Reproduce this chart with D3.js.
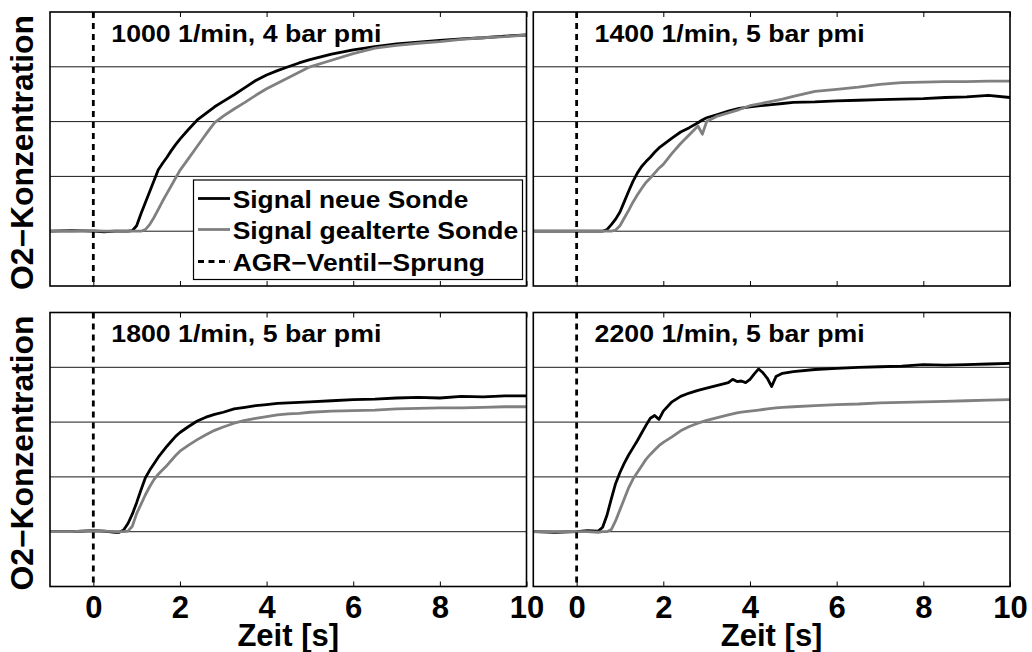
<!DOCTYPE html>
<html>
<head>
<meta charset="utf-8">
<script src="https://cdn.jsdelivr.net/npm/d3@7"></script>
<style>
  body { margin: 0; background: #fff; }
  svg { display: block; }
  text { font-family: "Liberation Sans", Arial, Helvetica, sans-serif; font-weight: bold; fill: #000; }
</style>
</head>
<body>
<svg id="chart" width="1032" height="652"></svg>
<script>
// ---- data -------------------------------------------------------------
const xTicks = [0, 2, 4, 6, 8, 10];
const yGrid = [1, 2, 3, 4];
const stepTime = 0;                     // AGR valve step
const xLabel = "Zeit [s]";
const yLabel = "O2\u2212Konzentration";
const legendLabels = ["Signal neue Sonde", "Signal gealterte Sonde", "AGR\u2212Ventil\u2212Sprung"];
const panelTitles = ["1000 1/min, 4 bar pmi", "1400 1/min, 5 bar pmi", "1800 1/min, 5 bar pmi", "2200 1/min, 5 bar pmi"];

const time1000 = [-1,-0.5,0,0.25,0.5,0.6,0.7,0.8,0.9,1.0,1.1,1.2,1.3,1.4,1.5,1.6,1.7,1.8,1.9,2.0,2.2,2.4,2.6,2.8,3.0,3.25,3.5,3.75,4.0,4.25,4.5,4.75,5.0,5.5,6.0,6.5,7.0,7.5,8.0,8.5,9.0,9.5,10];
const new1000  = [1.0,1.01,1.0,0.99,1.0,1.0,1.0,1.0,1.01,1.1,1.32,1.52,1.72,1.92,2.12,2.24,2.35,2.47,2.58,2.68,2.86,3.03,3.15,3.27,3.37,3.49,3.62,3.75,3.85,3.93,4.0,4.07,4.13,4.23,4.31,4.37,4.42,4.45,4.48,4.51,4.53,4.56,4.58];
const aged1000 = [1.0,1.0,1.01,1.0,1.0,1.0,1.0,1.0,1.0,1.0,1.0,1.03,1.12,1.25,1.40,1.55,1.69,1.83,1.97,2.11,2.33,2.55,2.77,2.98,3.1,3.23,3.35,3.48,3.6,3.7,3.8,3.9,4.0,4.12,4.24,4.34,4.39,4.43,4.46,4.5,4.53,4.55,4.58];

const time1400 = [-1,-0.5,0,0.25,0.5,0.6,0.7,0.8,0.9,1.0,1.1,1.2,1.3,1.4,1.5,1.6,1.7,1.8,1.9,2.0,2.2,2.4,2.6,2.8,2.9,3.0,3.25,3.5,3.75,4.0,4.25,4.5,4.75,5.0,5.5,6.0,6.5,7.0,7.5,8.0,8.5,9.0,9.5,10];
const new1400  = [1.0,1.0,1.0,1.0,1.0,1.0,1.03,1.12,1.22,1.35,1.54,1.73,1.91,2.06,2.18,2.27,2.35,2.44,2.52,2.58,2.70,2.81,2.89,2.98,3.03,3.07,3.13,3.19,3.24,3.27,3.29,3.31,3.33,3.35,3.36,3.38,3.39,3.40,3.41,3.42,3.44,3.45,3.48,3.44];
const aged1400 = [1.0,1.0,1.0,1.0,1.0,1.0,1.0,1.0,1.02,1.1,1.24,1.38,1.53,1.66,1.78,1.89,1.97,2.06,2.15,2.22,2.42,2.6,2.76,2.92,2.77,3.0,3.1,3.16,3.22,3.29,3.33,3.37,3.41,3.46,3.55,3.59,3.63,3.68,3.71,3.72,3.73,3.73,3.74,3.74];

const time1800 = [-1,-0.5,0,0.25,0.5,0.6,0.7,0.8,0.9,1.0,1.1,1.2,1.3,1.4,1.5,1.6,1.7,1.8,1.9,2.0,2.2,2.4,2.6,2.8,3.0,3.25,3.5,3.75,4.0,4.25,4.5,4.75,5.0,5.5,6.0,6.5,7.0,7.5,8.0,8.5,9.0,9.5,10];
const new1800  = [1.0,1.0,1.02,1.01,0.99,0.99,1.03,1.15,1.32,1.53,1.76,1.98,2.12,2.24,2.36,2.46,2.56,2.65,2.74,2.81,2.92,3.02,3.09,3.14,3.18,3.24,3.27,3.30,3.32,3.34,3.35,3.36,3.37,3.39,3.41,3.42,3.44,3.45,3.44,3.47,3.46,3.48,3.48];
const aged1800 = [1.0,1.0,1.02,1.01,1.0,1.0,1.0,1.01,1.1,1.33,1.5,1.67,1.82,1.95,2.05,2.13,2.21,2.3,2.39,2.47,2.58,2.68,2.77,2.85,2.91,2.98,3.03,3.07,3.1,3.13,3.15,3.16,3.18,3.2,3.21,3.22,3.24,3.25,3.26,3.26,3.27,3.28,3.28];

const time2200 = [-1,-0.5,0,0.25,0.5,0.6,0.7,0.8,0.9,1.0,1.1,1.2,1.3,1.4,1.5,1.6,1.7,1.8,1.9,2.0,2.2,2.4,2.6,2.8,3.0,3.25,3.5,3.6,3.7,3.8,3.9,4.0,4.1,4.2,4.3,4.4,4.5,4.6,4.75,5.0,5.5,6.0,6.5,7.0,7.5,8.0,8.5,9.0,9.5,10];
const new2200  = [1.0,0.99,1.0,1.02,1.01,1.08,1.3,1.6,1.88,2.08,2.25,2.4,2.53,2.66,2.8,2.94,3.07,3.12,3.05,3.2,3.37,3.47,3.53,3.58,3.62,3.67,3.72,3.78,3.74,3.75,3.72,3.78,3.88,3.97,3.9,3.8,3.65,3.83,3.89,3.92,3.96,3.98,4.0,4.01,4.02,4.05,4.04,4.05,4.06,4.07];
const aged2200 = [1.0,1.0,1.0,1.0,0.99,1.0,1.0,1.04,1.2,1.4,1.6,1.8,1.96,2.08,2.2,2.32,2.41,2.49,2.57,2.63,2.73,2.84,2.92,2.98,3.03,3.08,3.13,3.15,3.17,3.18,3.19,3.2,3.21,3.22,3.23,3.24,3.25,3.26,3.27,3.28,3.3,3.32,3.33,3.35,3.36,3.37,3.38,3.39,3.4,3.41];

const panels = [
  { title: panelTitles[0], time: time1000, fresh: new1000, aged: aged1000, col: 0, row: 0 },
  { title: panelTitles[1], time: time1400, fresh: new1400, aged: aged1400, col: 1, row: 0 },
  { title: panelTitles[2], time: time1800, fresh: new1800, aged: aged1800, col: 0, row: 1 },
  { title: panelTitles[3], time: time2200, fresh: new2200, aged: aged2200, col: 1, row: 1 }
];

// ---- layout -----------------------------------------------------------
const cols = [{ x0: 50, x1: 526.5 }, { x0: 533.3, x1: 1010 }];
const rows = [{ y0: 12, y1: 286 }, { y0: 312.5, y1: 586.5 }];
const colorNew = "#000000";
const colorAged = "#808080";

const svg = d3.select("#chart");

panels.forEach((p, i) => {
  const c = cols[p.col], r = rows[p.row];
  const x = d3.scaleLinear().domain([-1, 10]).range([c.x0, c.x1]);
  const y = d3.scaleLinear().domain([0, 5]).range([r.y1, r.y0]);
  const g = svg.append("g");

  const clipId = "clip" + i;
  g.append("clipPath").attr("id", clipId)
    .append("rect").attr("x", c.x0).attr("y", r.y0)
    .attr("width", c.x1 - c.x0).attr("height", r.y1 - r.y0);

  // horizontal grid
  g.append("g").selectAll("line").data(yGrid).join("line")
    .attr("x1", c.x0).attr("x2", c.x1)
    .attr("y1", d => y(d)).attr("y2", d => y(d))
    .attr("stroke", "#1a1a1a").attr("stroke-width", 1);

  // signals
  const line = d3.line().x(d => x(d[0])).y(d => y(d[1]));
  const plot = g.append("g").attr("clip-path", `url(#${clipId})`);
  plot.append("path").datum(p.time.map((t, k) => [t, p.fresh[k]]))
    .attr("d", line).attr("fill", "none").attr("stroke", colorNew)
    .attr("stroke-width", 2.8).attr("stroke-linejoin", "round");
  plot.append("path").datum(p.time.map((t, k) => [t, p.aged[k]]))
    .attr("d", line).attr("fill", "none").attr("stroke", colorAged)
    .attr("stroke-width", 2.8).attr("stroke-linejoin", "round");

  // valve step marker
  plot.append("line")
    .attr("x1", x(stepTime)).attr("x2", x(stepTime))
    .attr("y1", r.y0).attr("y2", r.y1)
    .attr("stroke", "#000").attr("stroke-width", 2.8)
    .attr("stroke-dasharray", "6,5");

  // axes: ticks inward on top and bottom
  const bottom = g.append("g").attr("transform", `translate(0,${r.y1})`)
    .call(d3.axisBottom(x).tickValues(xTicks).tickSize(-5).tickSizeOuter(0));
  const top = g.append("g").attr("transform", `translate(0,${r.y0})`)
    .call(d3.axisTop(x).tickValues(xTicks).tickSize(-5).tickSizeOuter(0).tickFormat(""));
  [bottom, top].forEach(a => {
    a.select(".domain").remove();
    a.selectAll(".tick line").attr("stroke", "#000").attr("stroke-width", 1);
  });
  bottom.selectAll(".tick text")
    .attr("y", 31.5).attr("dy", null)
    .style("font-size", "31px")
    .style("font-family", '"Liberation Sans", Arial, Helvetica, sans-serif')
    .style("font-weight", "bold")
    .attr("fill", "#000");
  if (p.row === 0) bottom.selectAll(".tick text").remove();

  // frame
  g.append("rect").attr("x", c.x0).attr("y", r.y0)
    .attr("width", c.x1 - c.x0).attr("height", r.y1 - r.y0)
    .attr("fill", "none").attr("stroke", "#000").attr("stroke-width", 1.6);

  // operating point
  g.append("text").attr("x", x(0) + 18).attr("y", r.y0 + 29.5)
    .attr("font-size", 23).attr("textLength", 270).attr("lengthAdjust", "spacingAndGlyphs")
    .text(p.title);

  // axis titles
  if (p.row === 1) {
    g.append("text").attr("x", (c.x0 + c.x1) / 2).attr("y", 646)
      .attr("text-anchor", "middle").attr("font-size", 31).text(xLabel);
  }
  if (p.col === 0) {
    g.append("text")
      .attr("transform", `translate(33,${(r.y0 + r.y1) / 2 + 3.5}) rotate(-90)`)
      .attr("text-anchor", "middle").attr("font-size", 31)
      .attr("textLength", 275).attr("lengthAdjust", "spacingAndGlyphs")
      .text(yLabel);
  }
});

// ---- legend (first panel) ---------------------------------------------
const legend = svg.append("g");
legend.append("rect").attr("x", 193.5).attr("y", 180).attr("width", 329).attr("height", 99.5)
  .attr("fill", "#fff").attr("stroke", "#000").attr("stroke-width", 1.2);
const legendStyles = [
  { color: colorNew, dash: null },
  { color: colorAged, dash: null },
  { color: "#000", dash: "6,4.5" }
];
const legendWidths = [235.6, 285.6, 252.3];
const legendBase = [207.5, 238.5, 270.5];
legendLabels.forEach((lab, k) => {
  legend.append("line")
    .attr("x1", 198).attr("x2", 230)
    .attr("y1", legendBase[k] - 9).attr("y2", legendBase[k] - 9)
    .attr("stroke", legendStyles[k].color).attr("stroke-width", 2.8)
    .attr("stroke-dasharray", legendStyles[k].dash);
  legend.append("text").attr("x", 232.7).attr("y", legendBase[k])
    .attr("font-size", 23).attr("textLength", legendWidths[k])
    .attr("lengthAdjust", "spacingAndGlyphs").text(lab);
});
</script>
</body>
</html>
